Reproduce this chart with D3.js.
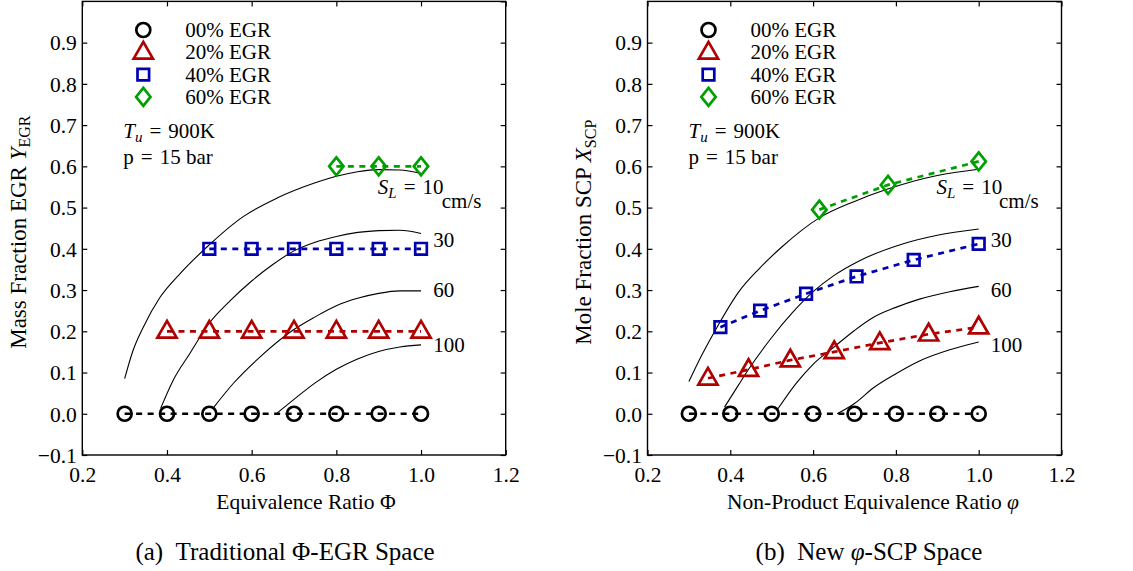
<!DOCTYPE html>
<html>
<head>
<meta charset="utf-8">
<script src="https://cdn.jsdelivr.net/npm/d3@7"></script>
<style>
  body { margin: 0; background: #fff; }
  svg text { font-family: "Liberation Serif", "Times New Roman", serif; fill: #000; }
</style>
</head>
<body>
<svg id="fig" width="1133" height="571"></svg>
<script>
// ---------- axis ticks and legend ----------
const xTickValues = [0.2, 0.4, 0.6, 0.8, 1.0, 1.2];
const yTickValues = [-0.1, 0.0, 0.1, 0.2, 0.3, 0.4, 0.5, 0.6, 0.7, 0.8, 0.9, 1.0];
const seriesNames = ["00% EGR", "20% EGR", "40% EGR", "60% EGR"];
const contourLabels = ["10", "30", "60", "100"];

// ---------- panel (a): equivalence ratio vs EGR mass fraction ----------
const phiA_00 = [0.3, 0.4, 0.5, 0.6, 0.7, 0.8, 0.9, 1.0];
const egrA_00 = [0.0, 0.0, 0.0, 0.0, 0.0, 0.0, 0.0, 0.0];
const phiA_20 = [0.4, 0.5, 0.6, 0.7, 0.8, 0.9, 1.0];
const egrA_20 = [0.2, 0.2, 0.2, 0.2, 0.2, 0.2, 0.2];
const phiA_40 = [0.5, 0.6, 0.7, 0.8, 0.9, 1.0];
const egrA_40 = [0.4, 0.4, 0.4, 0.4, 0.4, 0.4];
const phiA_60 = [0.8, 0.9, 1.0];
const egrA_60 = [0.6, 0.6, 0.6];

// laminar flame speed iso-lines, panel (a)
const slA10_x = [0.300, 0.320, 0.344, 0.384, 0.431, 0.495, 0.580, 0.660, 0.750, 0.800, 0.850, 0.900, 0.950, 1.000];
const slA10_y = [0.085, 0.154, 0.210, 0.283, 0.340, 0.405, 0.478, 0.523, 0.560, 0.576, 0.587, 0.592, 0.591, 0.583];
const slA30_x = [0.385, 0.415, 0.454, 0.500, 0.550, 0.600, 0.650, 0.700, 0.750, 0.800, 0.900, 0.950, 1.000];
const slA30_y = [0.013, 0.082, 0.146, 0.220, 0.275, 0.322, 0.362, 0.395, 0.416, 0.430, 0.444, 0.445, 0.437];
const slA60_x = [0.510, 0.557, 0.620, 0.698, 0.750, 0.800, 0.850, 0.900, 0.950, 1.000];
const slA60_y = [0.015, 0.074, 0.138, 0.203, 0.235, 0.262, 0.280, 0.292, 0.298, 0.298];
const slA100_x = [0.658, 0.700, 0.750, 0.800, 0.850, 0.900, 0.950, 1.000];
const slA100_y = [0.000, 0.035, 0.075, 0.108, 0.133, 0.151, 0.162, 0.167];

// ---------- panel (b): non-product equivalence ratio vs SCP mole fraction ----------
const phiB_00 = [0.3, 0.4, 0.5, 0.6, 0.7, 0.8, 0.9, 1.0];
const scpB_00 = [0.0, 0.0, 0.0, 0.0, 0.0, 0.0, 0.0, 0.0];
const phiB_20 = [0.346, 0.444, 0.545, 0.651, 0.761, 0.879, 1.0];
const scpB_20 = [0.086, 0.107, 0.130, 0.150, 0.172, 0.193, 0.210];
const phiB_40 = [0.376, 0.472, 0.583, 0.705, 0.843, 1.0];
const scpB_40 = [0.210, 0.250, 0.291, 0.333, 0.373, 0.412];
const phiB_60 = [0.615, 0.781, 1.0];
const scpB_60 = [0.495, 0.555, 0.612];

// laminar flame speed iso-lines, panel (b)
const slB10_x = [0.300, 0.330, 0.368, 0.420, 0.470, 0.525, 0.615, 0.700, 0.780, 0.900, 1.000];
const slB10_y = [0.078, 0.140, 0.210, 0.295, 0.352, 0.405, 0.475, 0.515, 0.545, 0.578, 0.593];
const slB30_x = [0.386, 0.420, 0.445, 0.500, 0.550, 0.600, 0.650, 0.710, 0.820, 0.900, 1.000];
const slB30_y = [0.016, 0.070, 0.109, 0.185, 0.245, 0.296, 0.335, 0.370, 0.413, 0.433, 0.448];
const slB60_x = [0.515, 0.560, 0.600, 0.652, 0.700, 0.746, 0.800, 0.857, 0.930, 1.000];
const slB60_y = [0.012, 0.075, 0.120, 0.163, 0.202, 0.234, 0.258, 0.278, 0.296, 0.309];
const slB100_x = [0.658, 0.700, 0.746, 0.800, 0.857, 0.930, 1.000];
const slB100_y = [0.000, 0.025, 0.063, 0.097, 0.128, 0.155, 0.174];

// ---------- styling ----------
const seriesColors = ["#000000", "#b00000", "#0000b0", "#00a000"];
const seriesMarkers = ["circle", "triangle", "square", "diamond"];
const zipXY = (xs, ys) => xs.map((x, i) => [x, ys[i]]);
const EQ = "\u2004=\u2004";   // math-style spacing around "="

const panels = [
  {
    x0: 82.3, x1: 505.7,
    series: [zipXY(phiA_00, egrA_00), zipXY(phiA_20, egrA_20), zipXY(phiA_40, egrA_40), zipXY(phiA_60, egrA_60)],
    contours: [zipXY(slA10_x, slA10_y), zipXY(slA30_x, slA30_y), zipXY(slA60_x, slA60_y), zipXY(slA100_x, slA100_y)],
    yLabel: { text: "Mass Fraction EGR ", sym: "Y", sub: "EGR" },
    xLabel: [{ t: "Equivalence Ratio Φ" }],
    xLabelX: 306,
    caption: [{ t: "(a)\u2002Traditional Φ-EGR Space" }],
    captionX: 285
  },
  {
    x0: 647.5, x1: 1061.5,
    series: [zipXY(phiB_00, scpB_00), zipXY(phiB_20, scpB_20), zipXY(phiB_40, scpB_40), zipXY(phiB_60, scpB_60)],
    contours: [zipXY(slB10_x, slB10_y), zipXY(slB30_x, slB30_y), zipXY(slB60_x, slB60_y), zipXY(slB100_x, slB100_y)],
    yLabel: { text: "Mole Fraction SCP ", sym: "X", sub: "SCP" },
    xLabel: [{ t: "Non-Product Equivalence Ratio " }, { t: "φ", it: true }],
    xLabelX: 873,
    caption: [{ t: "(b)\u2002New " }, { t: "φ", it: true }, { t: "-SCP Space" }],
    captionX: 869
  }
];

const yTop = 1.4, yBottom = 455;
const fsTick = 21.5, fsText = 21;

function markerPath(kind) {
  switch (kind) {
    case "circle": {
      const p = d3.path(); p.arc(0, 0, 7.0, 0, 2 * Math.PI); p.closePath(); return p.toString();
    }
    case "triangle": return "M0,-10.4L9.6,6.3L-9.6,6.3Z";
    case "square": return "M-5.8,-5.8H5.8V5.8H-5.8Z";
    case "diamond": return "M0,-9.0L7.2,0L0,9.0L-7.2,0Z";
  }
}

const svg = d3.select("#fig");
svg.append("rect").attr("width", 1133).attr("height", 571).attr("fill", "#fff");

panels.forEach(P => {
  const x = d3.scaleLinear().domain([0.2, 1.2]).range([P.x0, P.x1]);
  const y = d3.scaleLinear().domain([-0.1, 1.0]).range([yBottom, yTop]);
  const g = svg.append("g");
  const fmt = d3.format(".1f");

  // axes with inward ticks on all four sides
  const axL = g.append("g").attr("transform", `translate(${P.x0},0)`)
    .call(d3.axisLeft(y).tickValues(yTickValues.filter(v => v < 0.95)).tickSize(-5).tickPadding(5.5).tickFormat(fmt));
  const axR = g.append("g").attr("transform", `translate(${P.x1},0)`)
    .call(d3.axisRight(y).tickValues(yTickValues).tickSize(-5).tickFormat(""));
  const axB = g.append("g").attr("transform", `translate(0,${yBottom})`)
    .call(d3.axisBottom(x).tickValues(xTickValues).tickSize(-5).tickPadding(12).tickFormat(fmt));
  const axT = g.append("g").attr("transform", `translate(0,${yTop})`)
    .call(d3.axisTop(x).tickValues(xTickValues).tickSize(-5).tickFormat(""));
  [axL, axR, axB, axT].forEach(a => {
    a.select(".domain").remove();
    a.selectAll(".tick line").attr("stroke", "#000").attr("stroke-width", 1.2);
    a.selectAll("text").attr("font-size", fsTick).attr("font-family", "Liberation Serif").attr("fill", "#000");
  });
  axL.selectAll("text").attr("dy", "0.34em");
  axB.selectAll("text").attr("dy", "0.68em");

  // plot frame
  g.append("rect").attr("x", P.x0).attr("y", yTop).attr("width", P.x1 - P.x0).attr("height", yBottom - yTop)
    .attr("fill", "none").attr("stroke", "#000").attr("stroke-width", 1.4);

  // flame-speed iso-lines
  const curve = d3.line().x(d => x(d[0])).y(d => y(d[1])).curve(d3.curveMonotoneX);
  P.contours.forEach(c => {
    g.append("path").attr("d", curve(c)).attr("fill", "none").attr("stroke", "#000").attr("stroke-width", 1.1);
  });

  // EGR series: dashed connector then open markers
  const line = d3.line().x(d => x(d[0])).y(d => y(d[1]));
  P.series.forEach((s, i) => {
    g.append("path").attr("d", line(s)).attr("fill", "none")
      .attr("stroke", seriesColors[i]).attr("stroke-width", 2.7).attr("stroke-dasharray", "6,5.5");
  });
  P.series.forEach((s, i) => {
    g.selectAll(null).data(s).join("path")
      .attr("d", markerPath(seriesMarkers[i]))
      .attr("transform", d => `translate(${x(d[0])},${y(d[1])})`)
      .attr("fill", "none").attr("stroke", seriesColors[i]).attr("stroke-width", 2.7);
  });

  // legend
  const legRows = [30, 52.3, 74.6, 96.9];
  seriesNames.forEach((name, i) => {
    g.append("path").attr("d", markerPath(seriesMarkers[i]))
      .attr("transform", `translate(${P.x0 + 61},${legRows[i]})`)
      .attr("fill", "none").attr("stroke", seriesColors[i]).attr("stroke-width", 2.7);
    g.append("text").attr("x", P.x0 + 103).attr("y", legRows[i] + 7)
      .attr("font-size", fsText).text(name);
  });

  // operating conditions
  const tu = g.append("text").attr("x", P.x0 + 41).attr("y", 138).attr("font-size", fsText);
  tu.append("tspan").attr("font-style", "italic").text("T");
  tu.append("tspan").attr("font-style", "italic").attr("font-size", 15).attr("dy", 4).text("u");
  tu.append("tspan").attr("dy", -4).text(EQ + "900K");
  g.append("text").attr("x", P.x0 + 41).attr("y", 163.5).attr("font-size", fsText).text("p" + EQ + "15 bar");

  // iso-line labels
  const sl = g.append("text").attr("x", x(0.898)).attr("y", y(0.534)).attr("font-size", fsText);
  sl.append("tspan").attr("font-style", "italic").text("S");
  sl.append("tspan").attr("font-style", "italic").attr("font-size", 15).attr("dy", 4).text("L");
  sl.append("tspan").attr("dy", -4).text(EQ + contourLabels[0]);
  g.append("text").attr("x", x(1.049)).attr("y", y(0.498)).attr("font-size", fsText).text("cm/s");
  [[contourLabels[1], 0.405], [contourLabels[2], 0.283], [contourLabels[3], 0.150]].forEach(([t, v]) => {
    g.append("text").attr("x", x(1.029)).attr("y", y(v)).attr("font-size", fsText).text(t);
  });

  // y axis label
  const yl = g.append("text")
    .attr("transform", `translate(${P.x0 - 56.5},${(yTop + yBottom) / 2 + 4}) rotate(-90)`)
    .attr("text-anchor", "middle").attr("font-size", 23);
  yl.append("tspan").text(P.yLabel.text);
  yl.append("tspan").attr("font-style", "italic").text(P.yLabel.sym);
  yl.append("tspan").attr("font-size", 16).attr("dy", 4.5).text(P.yLabel.sub);

  // x axis label
  const xl = g.append("text").attr("x", P.xLabelX).attr("y", 509)
    .attr("text-anchor", "middle").attr("font-size", 21.5);
  P.xLabel.forEach(s => xl.append("tspan").attr("font-style", s.it ? "italic" : null).text(s.t));

  // sub-figure caption
  const cap = g.append("text").attr("x", P.captionX).attr("y", 560)
    .attr("text-anchor", "middle").attr("font-size", 25);
  P.caption.forEach(s => cap.append("tspan").attr("font-style", s.it ? "italic" : null).text(s.t));
});
</script>
</body>
</html>
